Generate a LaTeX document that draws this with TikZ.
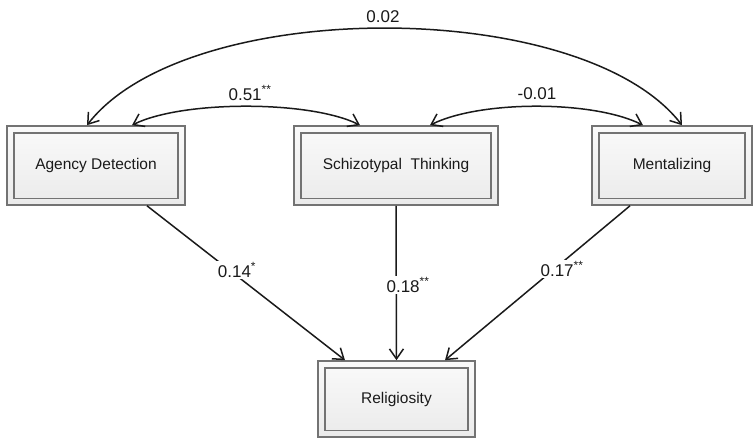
\documentclass[tikz,border=0pt]{standalone}
\usepackage{fontspec}
\setmainfont{Liberation Sans}
\usetikzlibrary{arrows.meta,calc}
\definecolor{boxline}{HTML}{737373}
\definecolor{ink}{HTML}{1A1A1A}
\tikzset{
  varbox/.style={draw=boxline, line width=1.6pt, top color=gray!4, bottom color=gray!16,
    minimum height=79pt, inner sep=0pt, font=\fontsize{15.5}{18}\selectfont, text=ink},
  inbox/.style={draw=boxline, line width=1.6pt},
  conn/.style={draw=ink, line width=1.5pt, -{Straight Barb[length=10pt,width=14pt]}},
  corr/.style={draw=ink, line width=1.5pt, {Straight Barb[length=10pt,width=14pt]}-{Straight Barb[length=10pt,width=14pt]}},
  coef/.style={fill=white, inner sep=2pt, font=\fontsize{17}{20}\selectfont, text=ink},
}
\newcommand{\innerbox}[1]{\draw[inbox] ([shift={(8pt,-7.5pt)}]#1.north west) rectangle ([shift={(-8pt,7.5pt)}]#1.south east);}
\begin{document}
\begin{tikzpicture}[x=1pt,y=-1pt]
\useasboundingbox (0,0) rectangle (756,439);
\node[varbox, minimum width=178pt] (ad) at (96,165.5) {Agency Detection};
\node[varbox, minimum width=204pt] (st) at (396,165.5) {Schizotypal\ \ Thinking};
\node[varbox, minimum width=160pt] (mz) at (672,165.5) {Mentalizing};
\node[varbox, minimum width=157pt, minimum height=76pt] (rl) at (396.5,399) {Religiosity};
\innerbox{ad}
\innerbox{st}
\innerbox{mz}
\innerbox{rl}

% regressions
\draw[conn] ([xshift=51pt]ad.south) -- ([xshift=-51.5pt]rl.north);
\draw[conn] (st.south) -- (rl.north);
\draw[conn] ([xshift=-42pt]mz.south) -- ([xshift=48.5pt]rl.north);

% correlations
\draw[corr] ([xshift=-9pt]ad.north) .. controls +(100,-129) and +(-100,-129) .. ([xshift=10pt]mz.north);
\draw[corr] ([xshift=36pt]ad.north) .. controls +(50,-25) and +(-50,-25) .. ([xshift=-36pt]st.north);
\draw[corr] ([xshift=34pt]st.north) .. controls +(50,-25) and +(-50,-25) .. ([xshift=-29pt]mz.north);

% coefficients
\node[coef] (c02) at (383,17) {0.02};
\node[coef, fill=none] (c51) at (250,93) {0.51\textsuperscript{**}};
\node[coef, fill=none] (c01) at (537,94) {-0.01};
\node[coef] (c14) at (237,270) {0.14\textsuperscript{*}};
\node[coef] (c18) at (408,285) {0.18\textsuperscript{**}};
\node[coef] (c17) at (562,269) {0.17\textsuperscript{**}};
\end{tikzpicture}
\end{document}
